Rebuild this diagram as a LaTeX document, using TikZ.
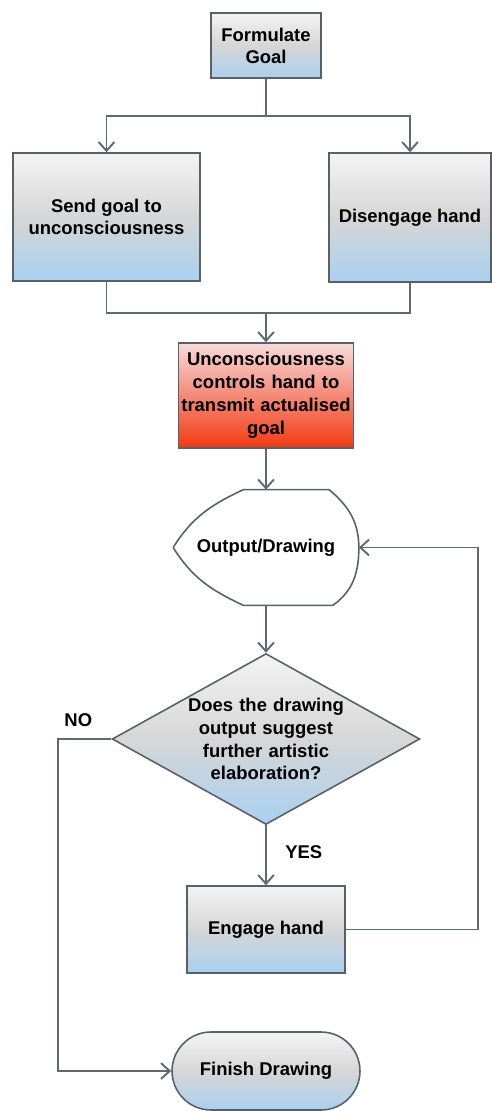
\documentclass[tikz,border=0pt]{standalone}
\usepackage{fontspec}
\setmainfont{Liberation Sans}
\definecolor{flowLine}{HTML}{5E6A72}
\definecolor{flowEdge}{HTML}{5A6068}
\definecolor{flowTop}{HTML}{F4F4F4}
\definecolor{flowMid}{HTML}{D6D6D6}
\definecolor{flowBlue}{HTML}{A9D0F0}
\definecolor{redTop}{HTML}{F7DADA}
\definecolor{redMid}{HTML}{F58A78}
\definecolor{redBot}{HTML}{F23A12}
\usetikzlibrary{shapes.geometric, shapes.misc, arrows.meta, positioning, calc}

\begin{document}
\begin{tikzpicture}[x=0.02cm, y=-0.02cm,
  flowbox/.style={draw=flowEdge, line width=0.9pt, top color=flowTop,
    bottom color=flowBlue, middle color=flowMid, align=center,
    font=\fontsize{10.5}{12.5}\selectfont\bfseries, inner sep=0pt},
  hotbox/.style={flowbox, top color=redTop, bottom color=redBot, middle color=redMid,
    font=\fontsize{10.5}{13}\selectfont\bfseries},
  link/.style={line width=1.1pt, draw=flowLine},
  arr/.style={link, -{Straight Barb[length=5pt, width=9pt]}},
  lbl/.style={font=\fontsize{10.5}{12.5}\selectfont\bfseries}]

  \useasboundingbox (0,0) rectangle (492,1111);

  \node[flowbox, minimum width=2.2cm, minimum height=1.3cm] (goal) at (266,45.5) {Formulate\\Goal};
  \node[flowbox, minimum width=3.74cm, minimum height=2.56cm] (send) at (106.5,217) {Send goal to\\unconsciousness};
  \node[flowbox, minimum width=3.24cm, minimum height=2.58cm] (dis) at (410,217.5) {Disengage hand};
  \node[hotbox, text width=3.5cm, minimum height=2.1cm] (unc) at (266,395.5)
    {Unconsciousness\\controls hand to\\transmit actualised\\goal};
  \node[lbl, minimum width=3.7cm, minimum height=2.3cm] (out) at (266,547.5) {};
  \node[flowbox, diamond, aspect=1.8, text width=3.2cm,
    font=\fontsize{10.5}{13}\selectfont\bfseries] (dia) at (266,739)
    {Does the drawing\\output suggest\\further artistic\\elaboration?};
  \node[flowbox, minimum width=3.16cm, minimum height=1.74cm] (engage) at (266,929.5) {Engage hand};
  \node[flowbox, rounded rectangle, minimum width=3.76cm, minimum height=1.56cm] (finish) at (266,1071) {Finish Drawing};

  % display shape round the output node
  \draw[draw=flowEdge, line width=0.9pt, fill=white]
    (out.west) to[out=58, in=205] ($(out.north west)!0.378!(out.north east)$)
    -- ($(out.north west)!0.84!(out.north east)$) to[out=-40, in=90] (out.east)
    to[out=-90, in=35] ($(out.south west)!0.86!(out.south east)$)
    -- ($(out.south west)!0.378!(out.south east)$) to[out=155, in=-58] (out.west);
  \node[lbl] (outtext) at (out.center) {Output/Drawing};

  \coordinate (split) at (266,116);
  \coordinate (join) at (266,313);
  \coordinate (back) at (478,547.5);
  \coordinate (nobend) at (58,739);

  \draw[link] (goal) -- (split);
  \draw[arr] (split) -| (send);
  \draw[arr] (split) -| (dis);
  \draw[link] (send) |- (join);
  \draw[link] (dis) |- (join);
  \draw[arr] (join) -- (unc);
  \draw[arr] (unc) -- (out);
  \draw[arr] (out) -- (dia);
  \draw[arr] (dia) -- node[lbl, pos=0.45, right=0.25cm] {YES} (engage);
  \draw[arr] (engage.east) -| (back) -- (out.east);
  \draw[arr] (dia.west) -- node[lbl, pos=0.62, above=0.12cm] {NO} (nobend) |- (finish.west);
\end{tikzpicture}
\end{document}
